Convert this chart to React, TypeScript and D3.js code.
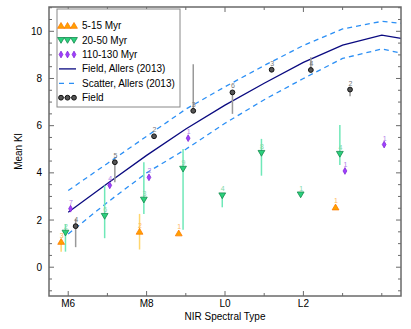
import React from 'react';
import * as d3 from 'd3';

// Allers (2013) field relation and its scatter, sampled per subtype
const lineSpT = [6, 7, 8, 9, 10, 11, 12, 13, 14, 14.49];
const fieldKI = [2.33, 3.55, 4.74, 5.86, 6.87, 7.8, 8.68, 9.41, 9.84, 9.7];
const upperKI = [3.25, 4.4, 5.55, 6.7, 7.65, 8.55, 9.4, 10.1, 10.42, 10.34];
const lowerKI = [1.41, 2.75, 4.0, 5.0, 6.1, 7.1, 8.0, 8.85, 9.25, 9.08];

// 5-15 Myr
const spt515 = [6, 8, 9, 13];
const ki515 = [1.08, 1.51, 1.44, 2.54];
const lo515 = [0.66, 0.75, 1.44, 2.54];
const hi515 = [1.08, 2.26, 1.44, 2.54];
const n515 = ['3', '2', '1', '1'];

// 20-50 Myr
const spt2050 = [6, 7, 8, 9, 10, 11, 12, 13];
const ki2050 = [1.46, 2.17, 2.86, 4.17, 3.04, 4.84, 3.08, 4.8];
const lo2050 = [0.66, 1.23, 2.26, 1.59, 2.54, 3.88, 3.08, 4.33];
const hi2050 = [1.83, 3.46, 4.45, 5.01, 3.04, 5.44, 3.08, 6.03];
const n2050 = ['2', '6', '3', '9', '4', '8', '1', '4'];

// 110-130 Myr
const spt110 = [6, 7, 8, 9, 13, 14];
const ki110 = [2.48, 3.47, 3.81, 5.47, 4.08, 5.2];
const n110 = ['7', '4', '2', '1', '1', '1'];

// Field
const sptF = [6, 7, 8, 9, 10, 11, 12, 13];
const kiF = [1.74, 4.45, 5.55, 6.63, 7.41, 8.37, 8.36, 7.53];
const loF = [0.85, 3.6, 5.55, 6.63, 6.5, 8.37, 8.36, 7.25];
const hiF = [2.05, 4.45, 5.55, 8.6, 7.41, 8.37, 8.9, 7.53];
const nF = ['4', '5', '2', '3', '6', '3', '4', '2'];

const xTickVals = [6, 8, 10, 12];
const xTickLabels = ['M6', 'M8', 'L0', 'L2'];
const xMinor = [7, 9, 11, 13, 14];
const yTickVals = [0, 2, 4, 6, 8, 10];

const W = 411, H = 329;
const L = 49, R = 401, T = 7, B = 296;
const font = 'Liberation Sans, Arial, Helvetica, sans-serif';

const x = d3.scaleLinear().domain([5.51, 14.49]).range([L, R]);
const y = d3.scaleLinear().domain([-1.22, 11.03]).range([B, T]);

const triUp = 'M0,-3.2L3.4,2.6L-3.4,2.6Z';
const triDown = 'M0,3.2L3.4,-2.6L-3.4,-2.6Z';
const diamond = 'M0,-3.4L1.9,0L0,3.4L-1.9,0Z';

const line = d3.line<number>().x((d, i) => x(lineSpT[i])).y(d => y(d));

type Group = {
  spt: number[]; ki: number[]; lo?: number[]; hi?: number[]; n: string[];
  off: number; errColor: string; labColor: string;
  marker: (key: string, cx: number, cy: number) => React.ReactNode;
};

const orange = (k: string, cx: number, cy: number) => (
  <path key={k} d={triUp} transform={`translate(${cx},${cy})`} fill="#ffa200" stroke="#ff7a00" strokeWidth={0.8} />
);
const green = (k: string, cx: number, cy: number) => (
  <path key={k} d={triDown} transform={`translate(${cx},${cy})`} fill="#2bd07c" stroke="#148a4e" strokeWidth={0.8} />
);
const purple = (k: string, cx: number, cy: number) => (
  <path key={k} d={diamond} transform={`translate(${cx},${cy})`} fill="#a040ff" stroke="#7a20d0" strokeWidth={0.7} />
);
const dot = (k: string, cx: number, cy: number) => (
  <circle key={k} cx={cx} cy={cy} r={2.4} fill="#555" stroke="#111" strokeWidth={1} />
);

const groups: Group[] = [
  { spt: sptF, ki: kiF, lo: loF, hi: hiF, n: nF, off: 0.19, errColor: '#999', labColor: '#777', marker: dot },
  { spt: spt110, ki: ki110, n: n110, off: 0.06, errColor: '#c9a0f0', labColor: '#b080e8', marker: purple },
  { spt: spt2050, ki: ki2050, lo: lo2050, hi: hi2050, n: n2050, off: -0.07, errColor: '#6fe8b8', labColor: '#80d8a8', marker: green },
  { spt: spt515, ki: ki515, lo: lo515, hi: hi515, n: n515, off: -0.18, errColor: '#ffd66e', labColor: '#ffb860', marker: orange },
];

const legendRows = [
  { label: '5-15 Myr', kind: 'orange' },
  { label: '20-50 Myr', kind: 'green' },
  { label: '110-130 Myr', kind: 'purple' },
  { label: 'Field, Allers (2013)', kind: 'line' },
  { label: 'Scatter, Allers (2013)', kind: 'dash' },
  { label: 'Field', kind: 'dot' },
];

export default function App() {
  const yMinor = d3.range(-1, 11.01, 0.5).filter(v => v % 2 !== 0);
  const axisColor = '#6a6a6a';

  return (
    <svg width={W} height={H} style={{ position: 'absolute', left: 0, top: 0, background: '#fff' }} fontFamily={font}>
      {/* relation lines */}
      <path d={line(upperKI) || ''} fill="none" stroke="#2b8ff5" strokeWidth={1.3} strokeDasharray="5,4" />
      <path d={line(lowerKI) || ''} fill="none" stroke="#2b8ff5" strokeWidth={1.3} strokeDasharray="5,4" />
      <path d={line(fieldKI) || ''} fill="none" stroke="#0a0a80" strokeWidth={1.3} />

      {/* error bars */}
      {groups.map((g, gi) => g.lo && g.hi ? g.spt.map((s, i) => (
        <line key={`e${gi}-${i}`} x1={x(s + g.off)} x2={x(s + g.off)} y1={y(g.lo![i])} y2={y(g.hi![i])}
          stroke={g.errColor} strokeWidth={1.5} />
      )) : null)}

      {/* markers and counts */}
      {groups.map((g, gi) => g.spt.map((s, i) => (
        <g key={`m${gi}-${i}`}>
          {g.marker(`mk${gi}-${i}`, x(s + g.off), y(g.ki[i]))}
          <text x={x(s + g.off) + 0.5} y={y(g.ki[i]) - 4} fontSize={7} fill={g.labColor} textAnchor="middle">{g.n[i]}</text>
        </g>
      )))}

      {/* frame */}
      <rect x={L} y={T} width={R - L} height={B - T} fill="none" stroke={axisColor} strokeWidth={1.5} />

      {/* x ticks */}
      {xTickVals.map((v, i) => (
        <g key={`xt${v}`}>
          <line x1={x(v)} x2={x(v)} y1={B} y2={B - 5} stroke={axisColor} strokeWidth={1} />
          <line x1={x(v)} x2={x(v)} y1={T} y2={T + 5} stroke={axisColor} strokeWidth={1} />
          <text x={x(v)} y={307} fontSize={10} textAnchor="middle" fill="#000">{xTickLabels[i]}</text>
        </g>
      ))}
      {xMinor.map(v => (
        <g key={`xm${v}`}>
          <line x1={x(v)} x2={x(v)} y1={B} y2={B - 3} stroke={axisColor} strokeWidth={1} />
          <line x1={x(v)} x2={x(v)} y1={T} y2={T + 3} stroke={axisColor} strokeWidth={1} />
        </g>
      ))}

      {/* y ticks */}
      {yTickVals.map(v => (
        <g key={`yt${v}`}>
          <line x1={L} x2={L + 5} y1={y(v)} y2={y(v)} stroke={axisColor} strokeWidth={1} />
          <line x1={R} x2={R - 5} y1={y(v)} y2={y(v)} stroke={axisColor} strokeWidth={1} />
          <text x={42} y={y(v)} dy="0.35em" fontSize={10} textAnchor="end" fill="#000">{v}</text>
        </g>
      ))}
      {yMinor.map(v => (
        <g key={`ym${v}`}>
          <line x1={L} x2={L + 3} y1={y(v)} y2={y(v)} stroke={axisColor} strokeWidth={1} />
          <line x1={R} x2={R - 3} y1={y(v)} y2={y(v)} stroke={axisColor} strokeWidth={1} />
        </g>
      ))}

      {/* axis titles */}
      <text x={225} y={320} fontSize={10} textAnchor="middle" fill="#000">NIR Spectral Type</text>
      <text transform={`translate(22,${(T + B) / 2}) rotate(-90)`} fontSize={10} textAnchor="middle" fill="#000">Mean Kl</text>

      {/* legend */}
      <rect x={57} y={9} width={123} height={98} fill="#fff" stroke="#888" strokeWidth={1} />
      {legendRows.map((r, i) => {
        const ly = 25.7 + i * 14.4;
        const xs = [61, 67.5, 74];
        let sym: React.ReactNode = null;
        if (r.kind === 'orange') sym = xs.map((cx, j) => orange(`lo${j}`, cx, ly));
        if (r.kind === 'green') sym = xs.map((cx, j) => green(`lg${j}`, cx, ly));
        if (r.kind === 'purple') sym = xs.map((cx, j) => purple(`lp${j}`, cx, ly));
        if (r.kind === 'dot') sym = [<line key="dl" x1={59} x2={76} y1={ly} y2={ly} stroke="#999" strokeWidth={1} />,
          ...xs.map((cx, j) => dot(`ld${j}`, cx, ly))];
        if (r.kind === 'line') sym = <line x1={59} x2={76} y1={ly} y2={ly} stroke="#0a0a80" strokeWidth={1.3} />;
        if (r.kind === 'dash') sym = <line x1={59} x2={76} y1={ly} y2={ly} stroke="#2b8ff5" strokeWidth={1.3} strokeDasharray="5,5" />;
        return (
          <g key={`lg${i}`}>
            {sym}
            <text x={82} y={ly} dy="0.35em" fontSize={10} fill="#000">{r.label}</text>
          </g>
        );
      })}
    </svg>
  );
}
